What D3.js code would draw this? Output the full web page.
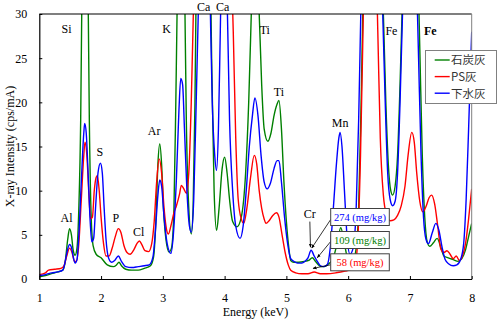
<!DOCTYPE html>
<html lang="ja">
<head>
<meta charset="utf-8">
<script type="text/javascript" src="https://cdnjs.cloudflare.com/ajax/libs/d3/7.8.5/d3.min.js"></script>
<style>
    body { margin: 0; background: #fff; }
    svg text { font-family: "Liberation Serif", "Times New Roman", serif; }
    .legend text { font-family: "Noto Sans CJK JP", "Noto Sans", sans-serif; }
</style>
</head>
<body>
<div id="container"></div>
<script type="text/javascript">
    var w = 500;
    var h = 326;

    // [energy keV, intensity cps/mA]; values above 30 run off the top of the plot
    var coalAsh = [
        [1.00, 0.25], [1.10, 0.4], [1.20, 0.6], [1.30, 0.8], [1.38, 1.0], [1.42, 2.0], [1.46, 4.5],
        [1.49, 5.7], [1.52, 5.0], [1.55, 3.2], [1.58, 2.7], [1.61, 3.5], [1.64, 8], [1.67, 18],
        [1.70, 40], [1.74, 70], [1.78, 40], [1.81, 18], [1.84, 7], [1.87, 3.8], [1.92, 2.8],
        [2.00, 2.4], [2.10, 1.6], [2.20, 1.4], [2.25, 1.6], [2.29, 1.9], [2.33, 1.5], [2.40, 1.1],
        [2.50, 1.0], [2.60, 1.0], [2.70, 1.2], [2.80, 1.5], [2.85, 2.5], [2.89, 7], [2.92, 13],
        [2.95, 15.3], [2.98, 13], [3.01, 8], [3.05, 4.5], [3.10, 3.05], [3.14, 3.5], [3.18, 8],
        [3.21, 20], [3.24, 35], [3.30, 60], [3.35, 35], [3.38, 18], [3.42, 8], [3.46, 5.1],
        [3.49, 8], [3.52, 20], [3.55, 40], [3.65, 80], [3.75, 45], [3.79, 25], [3.83, 10],
        [3.87, 5.5], [3.91, 8], [3.96, 12.5], [4.00, 13.8], [4.04, 12], [4.08, 9], [4.13, 6.5],
        [4.20, 5.9], [4.27, 7], [4.34, 12], [4.39, 20], [4.44, 32], [4.50, 45], [4.56, 30],
        [4.60, 22], [4.64, 17], [4.70, 15.6], [4.75, 16.5], [4.80, 18.5], [4.85, 19.8], [4.88, 20.2],
        [4.92, 17], [4.96, 11], [5.00, 6.5], [5.04, 3.5], [5.07, 2.1], [5.12, 1.9], [5.20, 1.9],
        [5.30, 2.0], [5.36, 2.1], [5.42, 2.4], [5.47, 2.0], [5.52, 1.6], [5.57, 1.4], [5.62, 1.4],
        [5.68, 1.7], [5.75, 2.2], [5.82, 4], [5.88, 5.8], [5.94, 4], [6.00, 2.2], [6.08, 2.2],
        [6.13, 3.5], [6.17, 8], [6.21, 20], [6.25, 35], [6.40, 80], [6.52, 45], [6.57, 30],
        [6.61, 20], [6.65, 13], [6.69, 10], [6.72, 9.5], [6.76, 10.5], [6.80, 14], [6.84, 22],
        [6.88, 32], [7.00, 55], [7.12, 38], [7.16, 26], [7.20, 14], [7.24, 7], [7.28, 4.2],
        [7.32, 3.7], [7.38, 4.1], [7.44, 4.6], [7.50, 3.6], [7.55, 2.6], [7.62, 2.4], [7.70, 2.2],
        [7.78, 2.0], [7.84, 2.3], [7.90, 3.3], [7.95, 4.8], [8.00, 6.3]
    ];

    var psAsh = [
        [1.00, 0.5], [1.10, 0.7], [1.15, 1.0], [1.25, 1.1], [1.35, 1.2], [1.40, 1.5], [1.44, 2.5],
        [1.49, 3.5], [1.53, 3.0], [1.57, 2.0], [1.60, 2.0], [1.64, 4], [1.68, 9], [1.72, 14],
        [1.74, 15.5], [1.77, 14], [1.80, 10], [1.83, 6.8], [1.86, 7], [1.89, 10], [1.92, 11.5],
        [1.94, 11.7], [1.97, 10], [2.00, 7], [2.04, 4], [2.08, 2.6], [2.13, 2.6], [2.18, 3.5],
        [2.23, 4.8], [2.28, 5.7], [2.32, 5.3], [2.37, 3.8], [2.42, 3.0], [2.47, 2.8], [2.53, 3.3],
        [2.58, 4.0], [2.62, 4.3], [2.66, 3.9], [2.71, 3.2], [2.77, 3.1], [2.82, 4], [2.86, 6.5],
        [2.90, 11], [2.94, 13.6], [2.98, 12], [3.02, 8], [3.06, 5.6], [3.09, 5.1], [3.13, 6],
        [3.18, 7.5], [3.22, 8.3], [3.27, 9.6], [3.30, 10.6], [3.34, 10.2], [3.38, 9.7], [3.42, 12],
        [3.46, 20], [3.50, 32], [3.60, 55], [3.80, 50], [4.00, 55], [4.10, 38], [4.14, 28],
        [4.18, 16], [4.22, 9], [4.27, 6.8], [4.31, 6.3], [4.36, 8], [4.42, 11.5], [4.48, 14],
        [4.52, 13], [4.56, 10], [4.60, 8], [4.64, 6.8], [4.67, 6.3], [4.72, 6.6], [4.78, 7.2],
        [4.84, 7.5], [4.88, 7.0], [4.93, 5], [4.98, 3], [5.03, 1.6], [5.07, 1.0], [5.15, 0.7],
        [5.25, 0.6], [5.35, 0.6], [5.45, 0.8], [5.55, 0.6], [5.65, 0.6], [5.80, 0.7], [5.95, 0.9],
        [6.05, 1.1], [6.12, 2], [6.16, 5], [6.20, 14], [6.24, 28], [6.30, 50], [6.42, 45],
        [6.48, 28], [6.52, 16], [6.57, 9.5], [6.62, 7.3], [6.68, 6.6], [6.74, 6.7], [6.80, 7.2],
        [6.86, 8.3], [6.92, 10.5], [6.97, 14], [7.03, 16.6], [7.07, 15.5], [7.11, 12], [7.16, 8.8],
        [7.21, 7.6], [7.26, 8.2], [7.31, 9.2], [7.35, 9.5], [7.40, 8.5], [7.45, 6], [7.50, 3.4],
        [7.55, 3.0], [7.60, 3.2], [7.65, 2.8], [7.70, 2.3], [7.75, 2.6], [7.80, 2.1], [7.85, 2.6],
        [7.90, 4], [7.95, 6.8], [8.00, 10.2]
    ];

    var sewageAsh = [
        [1.00, 0.4], [1.10, 0.5], [1.20, 0.7], [1.30, 0.8], [1.38, 1.0], [1.42, 2.0], [1.46, 3.4],
        [1.49, 3.9], [1.52, 3.6], [1.55, 2.5], [1.58, 1.8], [1.61, 2.2], [1.64, 5], [1.68, 11],
        [1.72, 16.5], [1.735, 17.6], [1.76, 16.5], [1.79, 12], [1.82, 7], [1.85, 4.2], [1.88, 4.6],
        [1.91, 8], [1.95, 12], [1.99, 13.1], [2.02, 12], [2.05, 8], [2.08, 4.5], [2.12, 2.4],
        [2.17, 1.9], [2.22, 2.1], [2.28, 2.6], [2.33, 2.0], [2.40, 1.4], [2.50, 1.3], [2.60, 1.4],
        [2.70, 1.5], [2.78, 1.6], [2.84, 2.5], [2.88, 5.5], [2.92, 9.5], [2.95, 11.2], [2.98, 10.5],
        [3.02, 7], [3.07, 4], [3.13, 2.9], [3.17, 5], [3.22, 11.4], [3.26, 19], [3.29, 22.7],
        [3.32, 22], [3.35, 17], [3.39, 10], [3.43, 6], [3.46, 5.3], [3.50, 9], [3.54, 20],
        [3.58, 32], [3.68, 70], [3.77, 30], [3.80, 20], [3.84, 14], [3.87, 12.3], [3.90, 17],
        [3.93, 28], [4.00, 55], [4.04, 32], [4.08, 18], [4.13, 10], [4.18, 6], [4.25, 4.6],
        [4.30, 6], [4.35, 10], [4.40, 15], [4.45, 18.5], [4.49, 20.5], [4.54, 18.5], [4.59, 14],
        [4.64, 11], [4.69, 10.2], [4.74, 10.8], [4.80, 12.5], [4.85, 13.4], [4.88, 13.4], [4.92, 11],
        [4.97, 7], [5.02, 4], [5.07, 2.3], [5.12, 2.0], [5.18, 1.8], [5.25, 1.8], [5.30, 2.0],
        [5.35, 2.4], [5.40, 3.25], [5.45, 2.6], [5.50, 2.0], [5.55, 1.5], [5.60, 1.4], [5.66, 1.6],
        [5.71, 3.5], [5.76, 8], [5.81, 13], [5.85, 16], [5.87, 16.6], [5.90, 15], [5.94, 10],
        [5.98, 5], [6.03, 2.8], [6.08, 3.5], [6.13, 8], [6.17, 18], [6.21, 32], [6.35, 70],
        [6.50, 45], [6.56, 30], [6.60, 20], [6.64, 12], [6.68, 9], [6.72, 8.3], [6.76, 8.8],
        [6.80, 12], [6.84, 20], [6.88, 30], [7.00, 50], [7.10, 36], [7.14, 25], [7.18, 14],
        [7.22, 7], [7.26, 4.5], [7.30, 4.0], [7.36, 5.2], [7.42, 6.3], [7.47, 5.5], [7.52, 3.6],
        [7.57, 2.2], [7.63, 1.7], [7.70, 1.5], [7.76, 1.6], [7.82, 2.2], [7.87, 4], [7.91, 9],
        [7.95, 17], [8.00, 28]
    ];

    var seriesNames = ["石炭灰", "PS灰", "下水灰"];
    var seriesColors = ["#008000", "#ff0000", "#0000ff"];
    var xTicks = [1, 2, 3, 4, 5, 6, 7, 8];
    var yTicks = [0, 5, 10, 15, 20, 25, 30];

    // element labels: [text, energy, intensity at baseline]
    var elements = [
        ["Al", 1.44, 6.5], ["Si", 1.44, 27.9], ["S", 1.98, 13.9], ["P", 2.24, 6.5],
        ["Cl", 2.61, 4.9], ["Ar", 2.86, 16.3], ["K", 3.06, 27.9], ["Ca", 3.66, 30.3],
        ["Ca", 3.97, 30.3], ["Ti", 4.65, 27.7], ["Ti", 4.88, 20.7], ["Cr", 5.38, 6.9],
        ["Mn", 5.87, 17.2], ["Fe", 6.70, 27.6], ["Fe", 7.33, 27.6]
    ];

    // Cr concentration boxes: [text, series index, target energy, target intensity]
    var crNotes = [
        ["274 (mg/kg)", 2, 5.41, 3.5],
        ["109 (mg/kg)", 0, 5.50, 2.4],
        ["58 (mg/kg)", 1, 5.43, 1.2]
    ];

    var plot = { left: 39.3, right: 471.7, top: 14, bottom: 279 };

    var svg = d3.select("#container")
                .append("svg")
                .attr("width", w)
                .attr("height", h);

    var xscale = d3.scaleLinear().domain([1, 8]).range([plot.left, plot.right]);
    var yscale = d3.scaleLinear().domain([0, 30]).range([plot.bottom, plot.top]);

    svg.append("defs").append("clipPath")
        .attr("id", "plotClip")
        .append("rect")
        .attr("x", plot.left)
        .attr("y", plot.top)
        .attr("width", plot.right - plot.left)
        .attr("height", plot.bottom - plot.top);

    // spectra
    var line = d3.line()
                 .x(function(d) { return xscale(d[0]); })
                 .y(function(d) { return yscale(d[1]); })
                 .curve(d3.curveMonotoneX);

    svg.append("g")
        .attr("clip-path", "url(#plotClip)")
        .selectAll("path")
        .data([coalAsh, psAsh, sewageAsh])
        .enter()
        .append("path")
        .attr("d", line)
        .attr("fill", "none")
        .attr("stroke", function(d, i) { return seriesColors[i]; })
        .attr("stroke-width", 1.4)
        .attr("stroke-linejoin", "round");

    // frame
    svg.append("line")
        .attr("x1", plot.left).attr("x2", plot.right)
        .attr("y1", plot.top).attr("y2", plot.top)
        .attr("stroke", "#000").attr("stroke-width", 1.2);
    svg.append("line")
        .attr("x1", plot.right).attr("x2", plot.right)
        .attr("y1", plot.top).attr("y2", plot.bottom)
        .attr("stroke", "#808080").attr("stroke-width", 1);

    var xAxis = d3.axisBottom(xscale).tickValues(xTicks).tickFormat(d3.format("d"))
                  .tickSizeInner(-3).tickSizeOuter(0).tickPadding(14);
    var yAxis = d3.axisLeft(yscale).tickValues(yTicks).tickFormat(d3.format("d"))
                  .tickSizeInner(-3).tickSizeOuter(0).tickPadding(12);

    var gx = svg.append("g").attr("transform", "translate(0," + plot.bottom + ")").call(xAxis);
    var gy = svg.append("g").attr("transform", "translate(" + plot.left + ",0)").call(yAxis);
    [gx, gy].forEach(function(g) {
        g.attr("font-family", "Liberation Serif, serif");
        g.select(".domain").attr("stroke", "#000").attr("stroke-width", 1.2);
        g.selectAll(".tick line").attr("stroke", "#000");
        g.selectAll(".tick text")
            .attr("font-size", 12)
            .attr("fill", "#000");
    });

    svg.append("text")
        .attr("x", (plot.left + plot.right) / 2)
        .attr("y", 316)
        .attr("text-anchor", "middle")
        .attr("font-size", 12)
        .text("Energy (keV)");

    svg.append("text")
        .attr("transform", "translate(14," + ((plot.top + plot.bottom) / 2) + ") rotate(-90)")
        .attr("text-anchor", "middle")
        .attr("font-size", 12)
        .text("X-ray Intensity (cps/mA)");

    svg.selectAll("text.element")
        .data(elements)
        .enter()
        .append("text")
        .attr("class", "element")
        .attr("x", function(d) { return xscale(d[1]); })
        .attr("y", function(d) { return yscale(d[2]); })
        .attr("text-anchor", "middle")
        .attr("font-size", 12)
        .attr("font-weight", function(d, i) { return i === elements.length - 1 ? "bold" : "normal"; })
        .text(function(d) { return d[0]; });

    // arrowheads for the Cr callouts
    svg.select("defs").append("marker")
        .attr("id", "arrow")
        .attr("viewBox", "0 0 10 10")
        .attr("refX", 9).attr("refY", 5)
        .attr("markerWidth", 5).attr("markerHeight", 5)
        .attr("orient", "auto")
        .append("path")
        .attr("d", "M0,1 L10,5 L0,9 Z")
        .attr("fill", "#000");

    // Cr label arrow to the sewage-ash peak
    svg.append("line")
        .attr("x1", xscale(5.38)).attr("y1", yscale(6.5))
        .attr("x2", xscale(5.39)).attr("y2", yscale(3.6))
        .attr("stroke", "#000").attr("stroke-width", 0.8)
        .attr("marker-end", "url(#arrow)");

    var boxX = 330.7, boxW = 58.6, boxH = 17;
    var boxTops = [208.5, 231.5, 253.8];

    var notes = svg.selectAll("g.note")
        .data(crNotes)
        .enter()
        .append("g")
        .attr("class", "note");

    notes.append("line")
        .attr("x1", boxX)
        .attr("y1", function(d, i) { return boxTops[i] + [11, 10, 11][i]; })
        .attr("x2", function(d) { return xscale(d[2]); })
        .attr("y2", function(d) { return yscale(d[3]); })
        .attr("stroke", "#000").attr("stroke-width", 0.8)
        .attr("marker-end", "url(#arrow)");

    notes.append("rect")
        .attr("x", boxX)
        .attr("y", function(d, i) { return boxTops[i]; })
        .attr("width", boxW)
        .attr("height", boxH)
        .attr("fill", "#fff")
        .attr("stroke", "#404040")
        .attr("stroke-width", 1);

    notes.append("text")
        .attr("x", boxX + boxW / 2)
        .attr("y", function(d, i) { return boxTops[i] + 12.5; })
        .attr("text-anchor", "middle")
        .attr("font-size", 10.5)
        .attr("fill", function(d) { return seriesColors[d[1]]; })
        .text(function(d) { return d[0]; });

    // legend
    var legend = svg.append("g").attr("class", "legend");
    legend.append("rect")
        .attr("x", 425.5).attr("y", 50.5)
        .attr("width", 71).attr("height", 53)
        .attr("fill", "#fff")
        .attr("stroke", "#808080");

    var items = legend.selectAll("g.item")
        .data(seriesNames)
        .enter()
        .append("g")
        .attr("class", "item")
        .attr("transform", function(d, i) { return "translate(0," + (60 + i * 16.6) + ")"; });

    items.append("line")
        .attr("x1", 434.7).attr("x2", 449.7)
        .attr("stroke", function(d, i) { return seriesColors[i]; })
        .attr("stroke-width", 1.4);

    items.append("text")
        .attr("x", 451)
        .attr("y", 4.3)
        .attr("font-size", 11.5)
        .attr("fill", "#333")
        .text(function(d) { return d; });
</script>
</body>
</html>
